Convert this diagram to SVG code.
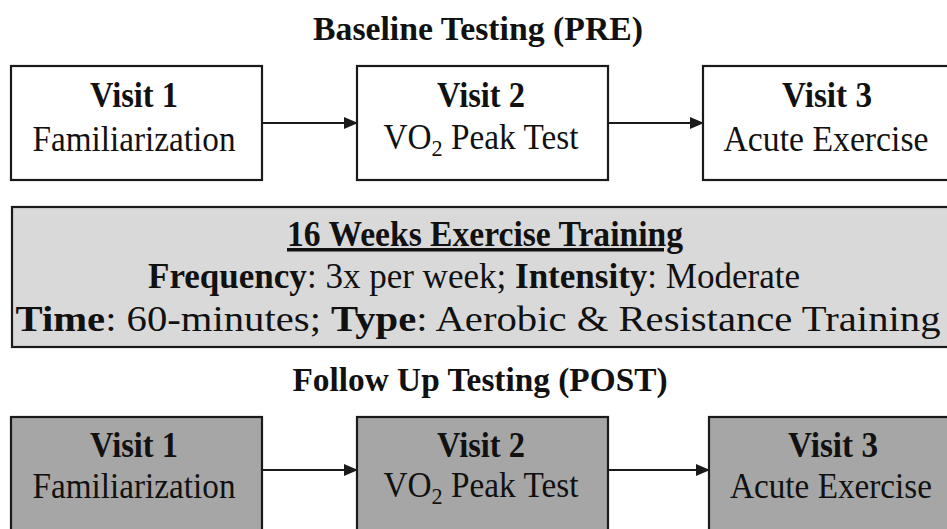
<svg xmlns="http://www.w3.org/2000/svg" width="947" height="529" viewBox="0 0 947 529">
<style>
  text { font-family: 'Liberation Serif', 'Times New Roman', Times, serif; fill: #111; text-anchor: middle; }
  .title { font-size: 33px; font-weight: bold; }
  .head { font-size: 36px; font-weight: bold; }
  .sub { font-size: 36px; }
  .band { font-size: 35px; }
  .b { font-weight: bold; }
  .box { stroke: #1a1a1a; stroke-width: 2.2; }
  .pre { fill: #ffffff; }
  .post { fill: #a6a6a6; }
  .conn { stroke: #1a1a1a; stroke-width: 2.2; fill: none; }
</style>
<defs>
  <marker id="arr" markerWidth="14" markerHeight="12" refX="13" refY="6" orient="auto" markerUnits="userSpaceOnUse">
    <path d="M0,0 L14,6 L0,12 Z" fill="#1a1a1a"/>
  </marker>
</defs>
<rect width="947" height="529" fill="#ffffff"/>

<text class="title" x="478" y="40" textLength="330" lengthAdjust="spacingAndGlyphs">Baseline Testing (PRE)</text>

<g id="pre-visit1">
  <rect class="box pre" x="11" y="66" width="251" height="114"/>
  <text class="head" x="134" y="107" textLength="88" lengthAdjust="spacingAndGlyphs">Visit 1</text>
  <text class="sub" x="134" y="151" textLength="203" lengthAdjust="spacingAndGlyphs">Familiarization</text>
</g>
<g id="pre-visit2">
  <rect class="box pre" x="357" y="66" width="251" height="114"/>
  <text class="head" x="481" y="107" textLength="88" lengthAdjust="spacingAndGlyphs">Visit 2</text>
  <text class="sub" x="481" y="149" textLength="195" lengthAdjust="spacingAndGlyphs">VO<tspan font-size="24" baseline-shift="-7">2</tspan> Peak Test</text>
</g>
<g id="pre-visit3">
  <rect class="box pre" x="703" y="66" width="252" height="114"/>
  <text class="head" x="827" y="107" textLength="90" lengthAdjust="spacingAndGlyphs">Visit 3</text>
  <text class="sub" x="826" y="151" textLength="205" lengthAdjust="spacingAndGlyphs">Acute Exercise</text>
</g>

<g id="training">
  <rect class="box" x="12" y="207" width="945" height="140" fill="#d9d9d9"/>
  <text class="band b" x="485" y="246" text-decoration="underline" textLength="396" lengthAdjust="spacingAndGlyphs">16 Weeks Exercise Training</text>
  <text class="band" x="474" y="288" textLength="652" lengthAdjust="spacingAndGlyphs"><tspan class="b">Frequency</tspan>: 3x per week; <tspan class="b">Intensity</tspan>: Moderate</text>
  <text class="band" x="478" y="331" textLength="925" lengthAdjust="spacingAndGlyphs"><tspan class="b">Time</tspan>: 60-minutes; <tspan class="b">Type</tspan>: Aerobic &amp; Resistance Training</text>
</g>

<text class="title" x="480" y="391" textLength="375" lengthAdjust="spacingAndGlyphs">Follow Up Testing (POST)</text>

<g id="post-visit1">
  <rect class="box post" x="11" y="417" width="251" height="130"/>
  <text class="head" x="134" y="457" textLength="88" lengthAdjust="spacingAndGlyphs">Visit 1</text>
  <text class="sub" x="134" y="498" textLength="203" lengthAdjust="spacingAndGlyphs">Familiarization</text>
</g>
<g id="post-visit2">
  <rect class="box post" x="357" y="417" width="251" height="130"/>
  <text class="head" x="481" y="457" textLength="88" lengthAdjust="spacingAndGlyphs">Visit 2</text>
  <text class="sub" x="481" y="497" textLength="195" lengthAdjust="spacingAndGlyphs">VO<tspan font-size="24" baseline-shift="-7">2</tspan> Peak Test</text>
</g>
<g id="post-visit3">
  <rect class="box post" x="709" y="417" width="252" height="130"/>
  <text class="head" x="833" y="457" textLength="90" lengthAdjust="spacingAndGlyphs">Visit 3</text>
  <text class="sub" x="831" y="498" textLength="202" lengthAdjust="spacingAndGlyphs">Acute Exercise</text>
</g>

<g id="connectors">
  <line class="conn" x1="262" y1="123" x2="357" y2="123" marker-end="url(#arr)"/>
  <line class="conn" x1="608" y1="123" x2="703" y2="123" marker-end="url(#arr)"/>
  <line class="conn" x1="262" y1="470" x2="357" y2="470" marker-end="url(#arr)"/>
  <line class="conn" x1="608" y1="470" x2="709" y2="470" marker-end="url(#arr)"/>
</g>
</svg>
